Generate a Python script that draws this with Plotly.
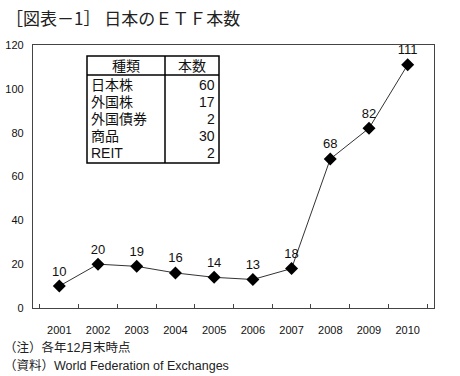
import plotly.graph_objects as go

years = ["2001", "2002", "2003", "2004", "2005", "2006", "2007", "2008", "2009", "2010"]
counts = [10, 20, 19, 16, 14, 13, 18, 68, 82, 111]

table_header = ["種類", "本数"]
table_types = ["日本株", "外国株", "外国債券", "商品", "REIT"]
table_counts = [60, 17, 2, 30, 2]

FONT = "Liberation Sans, Arial, Noto Sans CJK JP"

fig = go.Figure()
fig.add_trace(go.Scatter(
    x=years, y=counts, mode="lines+markers+text",
    line=dict(color="#333333", width=1),
    marker=dict(symbol="diamond", size=10, color="black"),
    text=[str(v) for v in counts], textposition="top center",
    textfont=dict(size=13, color="#111111", family=FONT),
    cliponaxis=False, showlegend=False, hoverinfo="skip",
))

W, H = 460, 376
ml, mr, mt, mb = 33, 26, 45, 68
pw, ph = W - ml - mr, H - mt - mb

def px(x):
    return (x - ml) / pw

def py(y):
    return 1 - (y - mt) / ph

# table frame
tx0, tx1, tdiv = 87, 219, 165
ty0, ty1, thead = 56, 163, 75
shapes = [
    dict(type="rect", xref="paper", yref="paper", x0=px(tx0), x1=px(tx1), y0=py(ty1), y1=py(ty0),
         line=dict(color="black", width=1.5), fillcolor="white"),
    dict(type="line", xref="paper", yref="paper", x0=px(tx0), x1=px(tx1), y0=py(thead), y1=py(thead),
         line=dict(color="black", width=1.5)),
    dict(type="line", xref="paper", yref="paper", x0=px(tdiv), x1=px(tdiv), y0=py(ty1), y1=py(ty0),
         line=dict(color="black", width=1.5)),
]
anns = []
tfont = dict(size=14, color="#111111", family="Liberation Sans, Noto Sans CJK JP")
anns.append(dict(xref="paper", yref="paper", x=px((tx0 + tdiv) / 2), y=py((ty0 + thead) / 2),
                 text=table_header[0], showarrow=False, font=tfont, xanchor="center", yanchor="middle"))
anns.append(dict(xref="paper", yref="paper", x=px((tdiv + tx1) / 2), y=py((ty0 + thead) / 2),
                 text=table_header[1], showarrow=False, font=tfont, xanchor="center", yanchor="middle"))
for i, (t, c) in enumerate(zip(table_types, table_counts)):
    yy = 85 + i * 17
    anns.append(dict(xref="paper", yref="paper", x=px(tx0 + 2), y=py(yy), text=t, showarrow=False,
                     font=tfont, xanchor="left", yanchor="middle"))
    anns.append(dict(xref="paper", yref="paper", x=px(tx1 - 2), y=py(yy), text=str(c), showarrow=False,
                     font=tfont, xanchor="right", yanchor="middle"))

# title and notes
anns.append(dict(xref="paper", yref="paper", x=px(4), y=py(18), text="［図表－1］ 日本のＥＴＦ本数",
                 showarrow=False, xanchor="left", yanchor="middle",
                 font=dict(size=17, color="#222222", family="Noto Sans CJK JP")))
anns.append(dict(xref="paper", yref="paper", x=px(2), y=py(347), text="（注）各年12月末時点",
                 showarrow=False, xanchor="left", yanchor="middle",
                 font=dict(size=12.5, color="#222222", family="Liberation Sans, Noto Sans CJK JP")))
anns.append(dict(xref="paper", yref="paper", x=px(2), y=py(366), text="（資料）World Federation of Exchanges",
                 showarrow=False, xanchor="left", yanchor="middle",
                 font=dict(size=12.5, color="#222222", family="Liberation Sans, Noto Sans CJK JP")))

fig.update_layout(
    width=W, height=H, margin=dict(l=ml, r=mr, t=mt, b=mb, autoexpand=False),
    paper_bgcolor="white", plot_bgcolor="white",
    shapes=shapes, annotations=anns,
    font=dict(family=FONT, color="#111111"),
)
fig.update_xaxes(type="category", showgrid=False, showline=True, linecolor="#444444", linewidth=1.2,
                 mirror=True, ticks="inside", tickson="boundaries", ticklen=4, tickcolor="#444444",
                 tickfont=dict(size=11, family=FONT, color="#111111"), ticklabelstandoff=12,
                 automargin=False)
fig.update_yaxes(range=[0, 120], dtick=20, showgrid=False, showline=True, linecolor="#444444", linewidth=1.2,
                 mirror=True, ticks="", zeroline=False,
                 tickfont=dict(size=11, family=FONT, color="#111111"), ticklabelstandoff=6,
                 automargin=False)

fig.write_html("out.html", config={"displayModeBar": False},
               post_script="document.body.style.margin='0';document.body.style.overflow='hidden';")
